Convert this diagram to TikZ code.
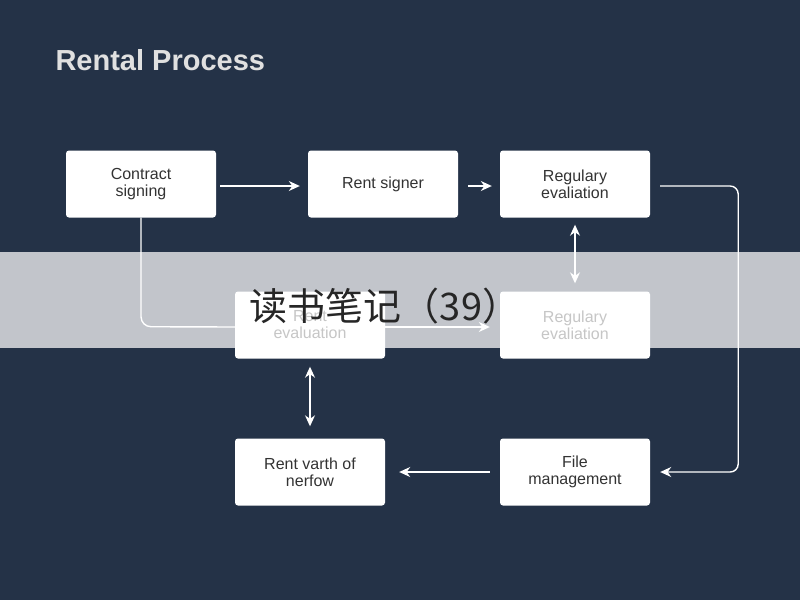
\documentclass[tikz,border=0pt]{standalone}
\usepackage{fontspec}
\setmainfont{Liberation Sans}
\newfontfamily\cjk{Noto Sans CJK SC}
\usetikzlibrary{arrows.meta}
\definecolor{bg}{HTML}{243247}
\begin{document}
\begin{tikzpicture}[x=1pt,y=-1pt,
  box/.style={draw=none,fill=white,rounded corners=3pt,minimum width=150pt,minimum height=67pt,align=center,font=\fontsize{16}{17}\selectfont,text=black!80},
  ln/.style={draw=white,line width=1.4pt},
  ar/.style={ln,-{Stealth[length=11pt,width=10pt]}},
  dar/.style={ln,{Stealth[length=11pt,width=10pt]}-{Stealth[length=11pt,width=10pt]}}]
\fill[bg] (0,0) rectangle (800,600);
\node[anchor=west,text=white!88!black,font=\bfseries\fontsize{29}{32}\selectfont] (t) at (52,60) {Rental Process};
\node[box] (a) at (141,184) {Contract\\signing};
\node[box] (b) at (383,184) {Rent signer};
\node[box] (c) at (575,184) {Regulary\\evaliation};
\node[box] (d) at (310,325) {Rent\\evaluation};
\node[box] (e) at (575,325) {Regulary\\evaliation};
\node[box] (f) at (310,472) {Rent varth of\\nerfow};
\node[box] (g) at (575,472) {File\\management};
\draw[ar] ([xshift=4pt,yshift=-2pt]a.east) -- ([xshift=-8pt,yshift=-2pt]b.west);
\draw[ar] ([xshift=10pt,yshift=-2pt]b.east) -- ([xshift=-8pt,yshift=-2pt]c.west);
\draw[ln,rounded corners=8pt] ([xshift=10pt,yshift=-2pt]c.east) -- ++(78,0) -- ++(0,200) coordinate (cr);
\draw[ar,rounded corners=8pt] (cr) -- (cr|-g.east) -- ([xshift=10pt]g.east);
\draw[dar] ([yshift=-7pt]c.south) -- ([yshift=8pt]e.north);
\draw[ln,rounded corners=10pt] (a.south) -- ++(0,109) -- (d.west|-0,327);
\draw[ar] ([yshift=-2pt]d.east) -- ([xshift=-10pt,yshift=-2pt]e.west);
\draw[dar] ([yshift=-8pt]d.south) -- ([yshift=12pt]f.north);
\draw[ar] ([xshift=-10pt]g.west) -- ([xshift=14pt]f.east);
\fill[white,opacity=0.72] (0,252) rectangle (800,348);
\node[font=\cjk\fontsize{38}{40}\selectfont,text=black!85] (w) at (385,306) {读书笔记（39）};
\end{tikzpicture}
\end{document}
